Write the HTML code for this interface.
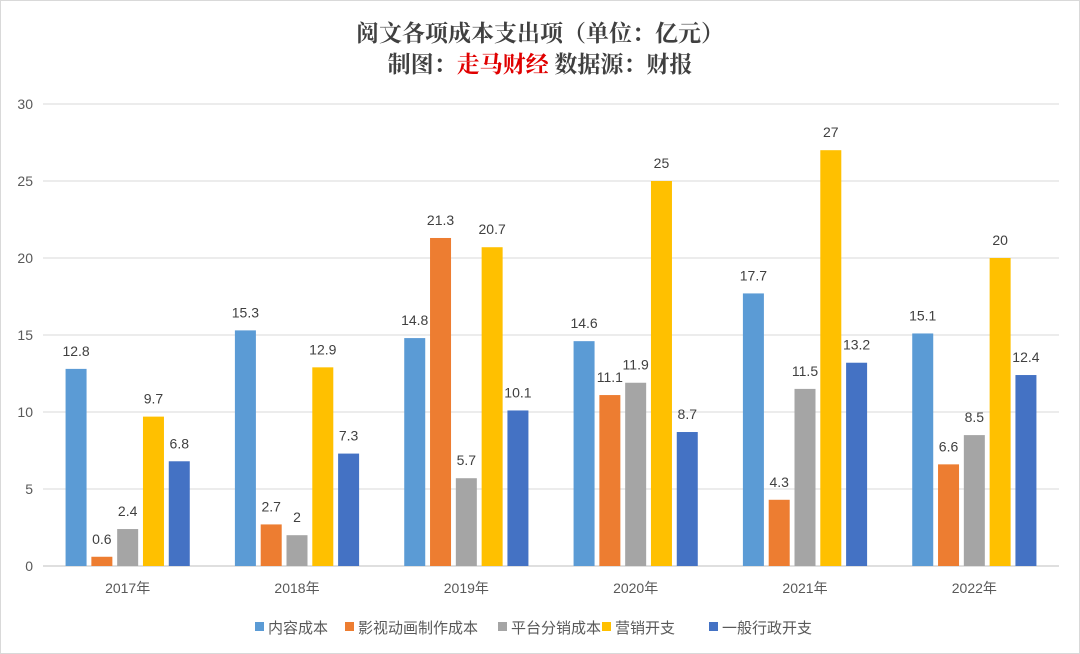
<!DOCTYPE html>
<html><head><meta charset="utf-8"><style>
body{margin:0;background:#fff;}
#wrap{position:relative;width:1078px;height:652px;border:1px solid #d9d9d9;background:#fff;overflow:hidden;}
.t{position:absolute;left:0;width:1078px;text-align:center;font-family:"Liberation Serif","Noto Serif CJK SC",serif;font-weight:bold;font-size:23px;color:#404040;}
</style></head><body>
<div id="wrap">
<div class="t" style="top:14px">阅文各项成本支出项（单位：亿元）</div>
<div class="t" style="top:45px">制图：<span style="color:#e00000">走马财经</span> 数据源：财报</div>
<svg id="svg" width="1078" height="652" style="position:absolute;left:0;top:0"></svg>
</div>
<script>
const categories=["2017年","2018年","2019年","2020年","2021年","2022年"];
const seriesNames=["内容成本","影视动画制作成本","平台分销成本","营销开支","一般行政开支"];
const s1=[12.8,15.3,14.8,14.6,17.7,15.1];
const s2=[0.6,2.7,21.3,11.1,4.3,6.6];
const s3=[2.4,2,5.7,11.9,11.5,8.5];
const s4=[9.7,12.9,20.7,25,27,20];
const s5=[6.8,7.3,10.1,8.7,13.2,12.4];
const yTicks=[0,5,10,15,20,25,30];
const colors=["#5B9BD5","#ED7D31","#A5A5A5","#FFC000","#4472C4"];
const series=[s1,s2,s3,s4,s5];
const NS="http://www.w3.org/2000/svg";
const svg=document.getElementById('svg');
const x0=42,x1=1058,y0=565,y1=103,yMax=30;
const gw=(x1-x0)/categories.length;
function y(v){return y0-(v/yMax)*(y0-y1);}
function mk(t,a){const e=document.createElementNS(NS,t);for(const k in a)e.setAttribute(k,a[k]);svg.appendChild(e);return e;}
const F='"Liberation Sans","Noto Sans CJK SC",sans-serif';
yTicks.forEach(v=>{
 const l=mk('line',{x1:x0,x2:x1,y1:y(v),y2:y(v),stroke:v===0?'#bfbfbf':'#d9d9d9','stroke-width':1});
 
 
 const t=mk('text',{x:32,y:y(v)+5,'text-anchor':'end','font-size':14,fill:'#595959','font-family':F});
 t.textContent=v;
 
 
});
const bw=21,step=25.8;
categories.forEach((c,i)=>{
 const cx=x0+gw*(i+0.5);
 const t=mk('text',{x:cx,y:592,'text-anchor':'middle','font-size':14,fill:'#595959','font-family':F});
 t.textContent=c;
 
 
 series.forEach((s,j)=>{
  const bx=cx+(j-2)*step-bw/2;
  const r=mk('rect',{x:bx,y:y(s[i]),width:bw,height:y0-y(s[i]),fill:colors[j]});
  
  
  const lt=mk('text',{x:bx+bw/2,y:y(s[i])-13,'text-anchor':'middle','font-size':14,fill:'#404040','font-family':F});
  lt.textContent=s[i];
  
  
 });
});
const widths=[90,153,104,107,100];
let lx=254;
seriesNames.forEach((n,j)=>{
 const r=mk('rect',{x:lx,y:621,width:9,height:9,fill:colors[j]});
 
 
 const t=mk('text',{x:lx+13,y:632,'font-size':15,fill:'#595959','font-family':F});
 t.textContent=n;
 
 
 lx+=widths[j];
});
</script>
</body></html>
